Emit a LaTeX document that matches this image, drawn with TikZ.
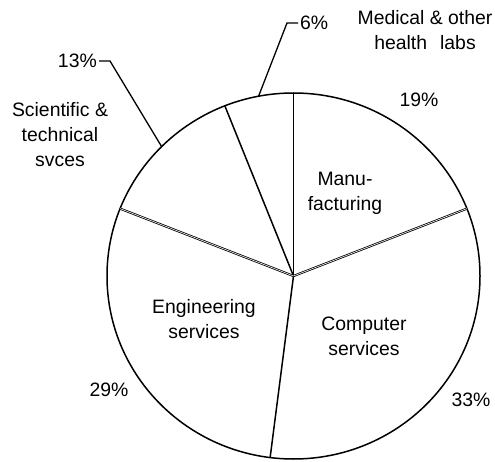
\documentclass[tikz,border=0pt]{standalone}
\usepackage{fontspec}
\setmainfont{Liberation Sans}
\usepackage{tikz}
\newcommand{\pielabel}[4]{\node[lbl] (#1) at (#2, #3) {#4};}
\newcommand{\rimpoint}[2]{\coordinate (#1) at ([shift={(#2:186.5 and 183)}]c);}
\tikzset{
  lbl/.style={font=\fontsize{19.4}{25}\selectfont, align=center, inner sep=0pt},
  rim/.style={line width=1.5pt},
  spoke/.style={line width=1.5pt},
  twin/.style={line width=0.8pt, double, double distance=0.6pt},
  leader/.style={line width=1.3pt}
}

\begin{document}
\begin{tikzpicture}[x=1pt,y=1pt]
\useasboundingbox (0,0) rectangle (495,461);
\coordinate (c) at (293.5,185);
\draw[rim] (c) ellipse [x radius=186.5, y radius=183];
    \foreach \a/\s in {90/spoke,111.6/spoke,-97.2/spoke,21.6/twin,158.4/twin}{
    \draw[\s] (c)--([shift={(\a:186.5 and 183)}]c);
    }
% leaders for the two small slices
\rimpoint{p13}{135}\rimpoint{p6}{100.8}
\coordinate (e13) at (110,400);
\coordinate (e6) at (287,438);
\node[lbl, inner xsep=2pt, anchor=east] (l13) at (99,400) {13\%};
\node[lbl, inner xsep=2pt, anchor=west] (l6) at (298,438) {6\%};
\draw[leader] (p13)--(e13)--(l13.east);
\draw[leader] (p6)--(e6)--(l6.west);
\pielabel{med}{425}{431}{Medical \& other\\health\hspace{13pt}labs}\pielabel{p19}{419}{361}{19\%}\pielabel{manu}{345}{268}{Manu-\\facturing}\pielabel{sci}{60}{326}{Scientific \&\\technical\\svces}\pielabel{eng}{204}{142}{Engineering\\services}\pielabel{comp}{364}{125}{Computer\\services}\pielabel{p29}{109}{71}{29\%}\pielabel{p33}{471}{61}{33\%}
\end{tikzpicture}
\end{document}
